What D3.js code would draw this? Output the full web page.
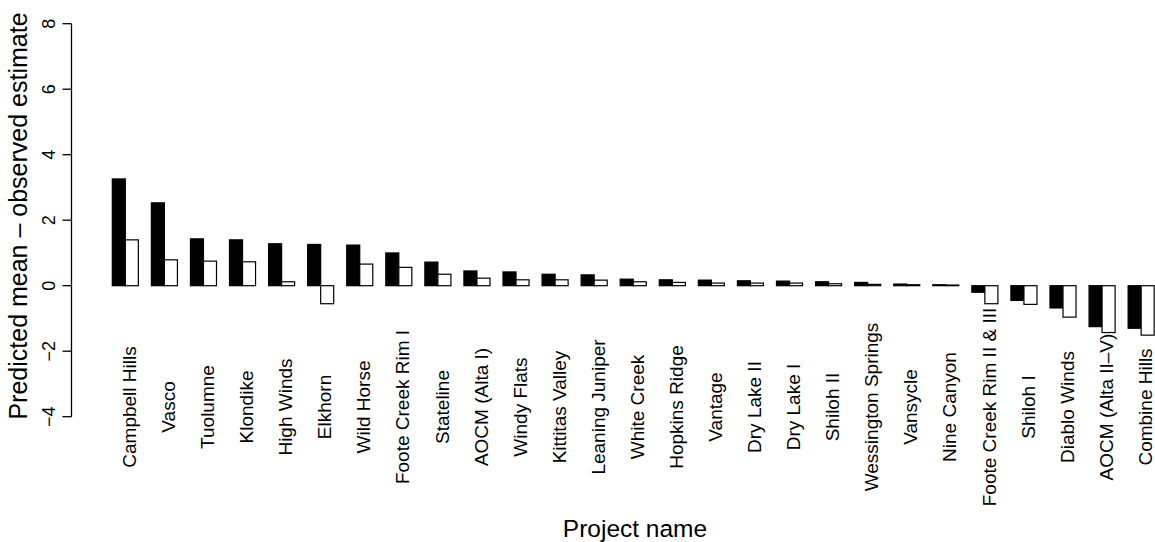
<!DOCTYPE html>
<html>
<head>
<meta charset="utf-8">
<script src="https://cdn.jsdelivr.net/npm/d3@7"></script>
<style>
  body { margin: 0; background: #fff; }
  svg { display: block; font-family: "Liberation Sans", Arial, Helvetica, sans-serif; }
</style>
</head>
<body>
<svg width="1155" height="542"></svg>
<script>
// Data
const projects = ["Campbell Hills", "Vasco", "Tuolumne", "Klondike", "High Winds", "Elkhorn",
  "Wild Horse", "Foote Creek Rim I", "Stateline", "AOCM (Alta I)", "Windy Flats",
  "Kittitas Valley", "Leaning Juniper", "White Creek", "Hopkins Ridge", "Vantage",
  "Dry Lake II", "Dry Lake I", "Shiloh II", "Wessington Springs", "Vansycle", "Nine Canyon",
  "Foote Creek Rim II & III", "Shiloh I", "Diablo Winds", "AOCM (Alta II\u2013V)", "Combine Hills"];
const filledValues = [3.26, 2.53, 1.43, 1.40, 1.28, 1.26, 1.24, 1.00, 0.72, 0.45, 0.42,
  0.35, 0.33, 0.20, 0.18, 0.17, 0.15, 0.14, 0.12, 0.10, 0.05, 0.03,
  -0.20, -0.45, -0.68, -1.25, -1.30];
const openValues = [1.40, 0.79, 0.75, 0.73, 0.12, -0.55, 0.66, 0.56, 0.35, 0.23, 0.18,
  0.18, 0.17, 0.12, 0.10, 0.08, 0.08, 0.08, 0.06, 0.04, 0.03, 0.02,
  -0.55, -0.57, -0.96, -1.43, -1.51];
const yTicks = [-4, -2, 0, 2, 4, 6, 8];

const svg = d3.select("svg");

// Scales
const y = d3.scaleLinear().domain([-4, 8]).range([416.7, 23.7]);
const step = 39.07;
const x0 = d3.scaleBand()
  .domain(projects)
  .range([112.3, 112.3 + projects.length * step - step / 3])
  .paddingInner(1 / 3)
  .paddingOuter(0);
const x1 = d3.scaleBand().domain(["filled", "open"]).range([0, x0.bandwidth()]);

const rows = projects.map((p, i) => ({ name: p, filled: filledValues[i], open: openValues[i] }));

// Bars
const groups = svg.append("g")
  .selectAll("g")
  .data(rows)
  .join("g")
  .attr("transform", d => `translate(${x0(d.name)},0)`);

groups.selectAll("rect")
  .data(d => [{ key: "filled", v: d.filled }, { key: "open", v: d.open }])
  .join("rect")
  .attr("x", d => x1(d.key))
  .attr("width", x1.bandwidth())
  .attr("y", d => y(Math.max(0, d.v)))
  .attr("height", d => Math.abs(y(d.v) - y(0)))
  .attr("fill", d => d.key === "filled" ? "#000" : "#fff")
  .attr("stroke", "#000")
  .attr("stroke-width", 1.2);

// Y axis (R style)
const axisX = 71.5;
const yAxis = svg.append("g");
yAxis.append("line")
  .attr("x1", axisX).attr("x2", axisX)
  .attr("y1", y(-4)).attr("y2", y(8))
  .attr("stroke", "#000").attr("stroke-width", 1.3);
yAxis.selectAll(".tick")
  .data(yTicks)
  .join("line")
  .attr("x1", axisX - 9).attr("x2", axisX)
  .attr("y1", d => y(d)).attr("y2", d => y(d))
  .attr("stroke", "#000").attr("stroke-width", 1.3);
yAxis.selectAll(".lab")
  .data(yTicks)
  .join("text")
  .attr("transform", d => `translate(55,${y(d)}) rotate(-90)`)
  .attr("text-anchor", "middle")
  .attr("font-size", 18)
  .text(d => d < 0 ? "\u2212" + Math.abs(d) : d);

// Category labels
svg.append("g")
  .selectAll("text")
  .data(projects)
  .join("text")
  .attr("transform", d => `translate(${x0(d) + x0.bandwidth() / 2 + 4},407) rotate(-90)`)
  .attr("text-anchor", "middle")
  .attr("dy", "0.35em")
  .attr("font-size", 19)
  .text(d => d);

// Axis titles
svg.append("text")
  .attr("transform", "translate(27,216) rotate(-90)")
  .attr("text-anchor", "middle")
  .attr("font-size", 25)
  .text("Predicted mean \u2013 observed estimate");

svg.append("text")
  .attr("x", 635)
  .attr("y", 537)
  .attr("text-anchor", "middle")
  .attr("font-size", 24.5)
  .text("Project name");
</script>
</body>
</html>
